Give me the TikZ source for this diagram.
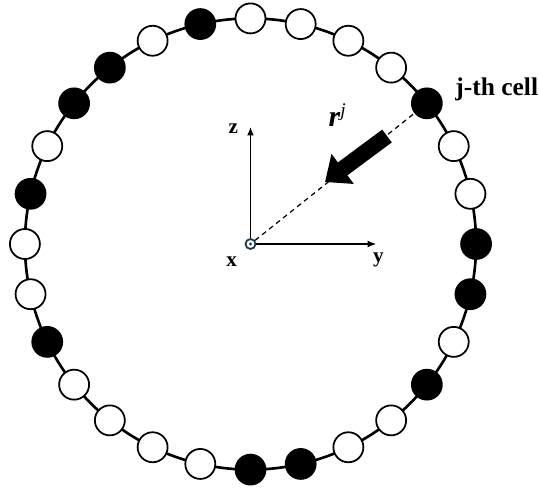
\documentclass[tikz,border=0pt]{standalone}
\usepackage{fontspec}
\setmainfont{Liberation Serif}
\usetikzlibrary{arrows.meta}
\definecolor{originblue}{HTML}{1B3A4E}

\begin{document}
\begin{tikzpicture}[x=0.02cm,y=0.02cm,
  cell/.style={circle,draw,line width=1pt,minimum size=0.6cm,inner sep=0pt},
  axislab/.style={font=\bfseries\fontsize{12}{14}\selectfont,inner sep=0pt},
  axis/.style={line width=1.1pt,-{Latex[length=5pt,width=4pt]}}]
  \useasboundingbox (-250.5,-244) rectangle (288.5,244);
  \draw[line width=1.5pt] (0,0) circle (225.6);
  \foreach \i/\c in {0/white,1/white,2/white,3/white,4/black,5/white,6/white,7/black,
                     8/black,9/white,10/black,11/white,12/white,13/black,14/black,
                     15/white,16/white,17/white,18/white,19/black,20/white,21/white,
                     22/black,23/white,24/black,25/black,26/white,27/black}{
    \node[cell,fill=\c] (b\i) at ({90-\i*360/28}:225.6) {};
  }
  \node[circle,draw=originblue,line width=1pt,minimum size=0.2cm,inner sep=0pt] (o) at (0,0) {};
  \fill[originblue] (o.center) circle (1.6);
  \coordinate (ztip) at (0,117.3);
  \coordinate (ytip) at (126,0);
  \draw[axis] (o) -- (ztip);
  \draw[axis] (o) -- (ytip);
  \node[axislab] (zlab) at (-17.2,115.7) {z};
  \node[axislab] (xlab) at (-18.8,-17.7) {x};
  \node[axislab] (ylab) at (127.8,-16) {y};
  \draw[line width=0.7pt,dash pattern=on 2.8pt off 2.3pt] (o) -- (b4);
  \coordinate (rtail) at (136.5,108);
  \coordinate (rhead) at (74.5,62);
  \draw[line width=0.32cm,-{Triangle[length=0.44cm,width=0.72cm]}] (rtail) -- (rhead);
  \node[anchor=base west,inner sep=0pt] (rlab) at (77.8,118)
    {{\bfseries\itshape\fontsize{17}{19}\selectfont r}\raisebox{5.5pt}{\itshape\fontsize{11}{13}\selectfont j}};
  \node[anchor=base west,inner sep=0pt,font=\bfseries\fontsize{14.5}{16}\selectfont] (cellab) at (204.5,149) {j-th cell};
\end{tikzpicture}
\end{document}
